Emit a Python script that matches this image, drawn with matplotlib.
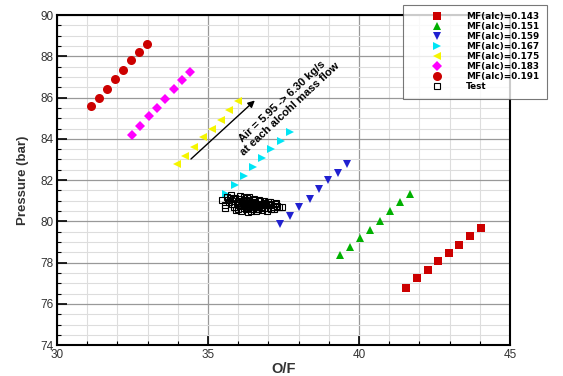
import matplotlib
matplotlib.use('Agg')
import matplotlib.pyplot as plt
from matplotlib.ticker import MultipleLocator

plt.rcParams['font.family'] = ['Liberation Sans', 'DejaVu Sans']

# O/F and pressure for each alcohol mass flow
of_143 = [41.57, 41.92, 42.27, 42.62, 42.98, 43.32, 43.68, 44.03]
p_143 = [76.75, 77.27, 77.64, 78.08, 78.45, 78.86, 79.27, 79.67]

of_151 = [39.38, 39.71, 40.04, 40.37, 40.70, 41.02, 41.37, 41.70]
p_151 = [78.37, 78.78, 79.18, 79.60, 80.03, 80.49, 80.93, 81.33]

of_159 = [37.40, 37.70, 38.03, 38.37, 38.67, 38.97, 39.30, 39.60]
p_159 = [79.85, 80.24, 80.68, 81.07, 81.56, 82.00, 82.34, 82.78]

of_167 = [35.60, 35.90, 36.20, 36.50, 36.80, 37.10, 37.43, 37.73]
p_167 = [81.32, 81.76, 82.20, 82.63, 83.07, 83.51, 83.90, 84.34]

of_175 = [33.97, 34.23, 34.53, 34.83, 35.13, 35.43, 35.70, 36.00]
p_175 = [82.78, 83.17, 83.61, 84.10, 84.49, 84.93, 85.41, 85.85]

of_183 = [32.49, 32.76, 33.04, 33.31, 33.59, 33.87, 34.14, 34.42]
p_183 = [84.20, 84.60, 85.10, 85.50, 85.92, 86.40, 86.83, 87.23]

of_191 = [31.12, 31.39, 31.66, 31.92, 32.19, 32.46, 32.72, 32.97]
p_191 = [85.61, 86.00, 86.42, 86.90, 87.32, 87.80, 88.20, 88.60]

# test points (dense cluster)
of_test = [35.45, 35.55, 35.62, 35.70, 35.75, 35.82, 35.58, 35.66, 35.78, 35.88,
           35.95, 36.02, 36.08, 36.15, 36.22, 36.30, 36.36, 36.42, 36.50, 36.58,
           36.65, 36.72, 36.80, 36.88, 36.95, 37.02, 37.10, 37.18, 37.26, 37.35,
           37.45, 35.92, 36.00, 36.10, 36.18, 36.26, 36.34, 36.44, 36.52, 36.60,
           36.70, 36.78, 36.86, 36.94, 37.05, 37.15, 35.85, 36.05, 36.20, 36.40,
           36.55, 36.68, 36.82, 36.98, 37.08, 37.22, 36.12, 36.28, 36.46, 36.62,
           36.76, 36.90, 35.72, 35.98, 36.24, 36.48, 36.74, 37.00, 37.30, 36.35,
           36.16, 36.32, 36.54, 36.66, 36.84, 36.04, 36.38, 36.58, 36.92, 36.26]
p_test = [81.05, 80.80, 81.20, 80.95, 81.30, 81.10, 80.65, 81.02, 80.85, 81.15,
          80.90, 81.08, 80.75, 81.00, 80.88, 81.12, 80.70, 80.95, 81.05, 80.82,
          80.60, 80.98, 80.72, 80.90, 80.65, 80.85, 80.78, 80.62, 80.88, 80.70,
          80.68, 80.55, 80.62, 80.50, 81.20, 80.58, 80.45, 80.52, 81.10, 80.48,
          81.02, 80.55, 80.98, 80.50, 80.95, 80.72, 80.70, 81.25, 80.66, 80.82,
          80.92, 80.76, 80.85, 80.80, 80.58, 80.84, 80.92, 80.98, 80.74, 80.60,
          80.86, 80.78, 81.12, 81.00, 80.80, 80.62, 80.70, 80.95, 80.75, 81.18,
          80.84, 80.66, 80.88, 80.70, 80.64, 80.78, 80.90, 80.72, 80.82, 81.04]

series = [
    (of_143, p_143, 's', '#cc0000', 5.5, 'MF(alc)=0.143'),
    (of_151, p_151, '^', '#00b000', 6.0, 'MF(alc)=0.151'),
    (of_159, p_159, 'v', '#2020d0', 6.0, 'MF(alc)=0.159'),
    (of_167, p_167, '>', '#00e5f5', 6.0, 'MF(alc)=0.167'),
    (of_175, p_175, '<', '#f5f500', 6.0, 'MF(alc)=0.175'),
    (of_183, p_183, 'D', '#ff00ff', 5.5, 'MF(alc)=0.183'),
    (of_191, p_191, 'o', '#cc0000', 6.5, 'MF(alc)=0.191'),
]

fig = plt.figure(figsize=(5.63, 3.76), dpi=100)
ax = fig.add_axes([0.101, 0.082, 0.805, 0.878])

for x, y, m, c, ms, lab in series:
    ax.plot(x, y, linestyle='none', marker=m, color=c, markersize=ms,
            markeredgewidth=0, label=lab, zorder=3)
ax.plot(of_test, p_test, linestyle='none', marker='s', markerfacecolor='none',
        markeredgecolor='k', markersize=5, markeredgewidth=0.8, label='Test', zorder=3)

ax.set_xlim(30, 45)
ax.set_ylim(74, 90)
ax.xaxis.set_major_locator(MultipleLocator(5))
ax.xaxis.set_minor_locator(MultipleLocator(1))
ax.yaxis.set_major_locator(MultipleLocator(2))
ax.yaxis.set_minor_locator(MultipleLocator(0.5))
ax.grid(which='major', color='#999999', linewidth=0.9, zorder=0)
ax.grid(which='minor', color='#dddddd', linewidth=0.8, zorder=0)
ax.set_axisbelow(True)
ax.tick_params(which='major', direction='in', length=7, width=1.2, labelsize=8.5,
               labelcolor='#333333', top=False, right=False, pad=2.5)
ax.tick_params(which='minor', direction='in', length=3, width=0.8, top=False, right=False)
for s in ax.spines.values():
    s.set_linewidth(1.5)

ax.set_xlabel('O/F', fontsize=10.5, fontweight='bold', color='#333333', labelpad=1)
ax.set_ylabel('Pressure (bar)', fontsize=9.5, fontweight='bold', color='#333333', labelpad=8)

ax.annotate('', xy=(36.62, 85.95), xytext=(34.37, 82.93),
            arrowprops=dict(arrowstyle='-|>', color='k', lw=1.0, mutation_scale=10))
ax.text(37.58, 85.62, 'Air = 5.95 -> 6.30 kg/s\nat each alcohl mass flow',
        rotation=43, rotation_mode='anchor', ha='center', va='center',
        multialignment='center', fontsize=8.0, fontweight='bold', linespacing=1.05)

leg = ax.legend(loc='upper left', bbox_to_anchor=(0.716, 0.987),
                bbox_transform=fig.transFigure, frameon=True,
                fancybox=False, edgecolor='#555555', labelspacing=0.12,
                handletextpad=0.3, borderpad=0.8, borderaxespad=0,
                handlelength=6.0,
                prop={'family': 'DejaVu Sans', 'weight': 'bold', 'size': 6.4})
leg.get_frame().set_linewidth(0.8)

fig.savefig('out.png', dpi=100)
